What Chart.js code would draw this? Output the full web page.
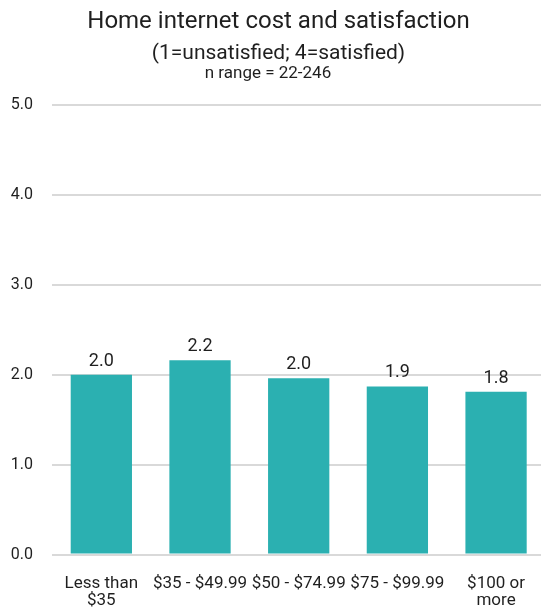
<!DOCTYPE html>
<html>
<head>
<meta charset="utf-8">
<script src="https://cdn.jsdelivr.net/npm/chart.js@4"></script>
<style>
  html, body { margin: 0; padding: 0; background: #ffffff; overflow: hidden; }
  #wrap { width: 546px; height: 609px; }
</style>
</head>
<body>
<div id="wrap"><canvas id="c"></canvas></div>
<script>
// Monthly home internet cost brackets and mean satisfaction (1-4 scale)
const costBrackets = [["Less than", "$35"], "$35 - $49.99", "$50 - $74.99", "$75 - $99.99", ["$100 or", "more"]];
const satisfaction = [2.0, 2.16, 1.96, 1.87, 1.81];
const yTicks = [0, 1, 2, 3, 4, 5];

const TEXT = "#1f1f1f";
const BAR = "#2bb0b1";
const GRID = "#d9d9d9";

// Value labels above each bar, plus the sample-size note under the subtitle
const annotate = {
  id: "annotate",
  afterDatasetsDraw(chart) {
    const ctx = chart.ctx;
    const meta = chart.getDatasetMeta(0);
    ctx.save();
    ctx.fillStyle = TEXT;
    ctx.font = "18px Roboto";
    ctx.textAlign = "center";
    ctx.textBaseline = "alphabetic";
    meta.data.forEach((bar, i) => {
      ctx.fillText(satisfaction[i].toFixed(1), bar.x, bar.y - 9);
    });
    ctx.font = "17px Roboto";
    ctx.fillText("n range = 22-246", 268, chart.chartArea.top - 27);
    ctx.restore();
  }
};

new Chart(document.getElementById("c"), {
  type: "bar",
  data: {
    labels: costBrackets,
    datasets: [{
      data: satisfaction,
      backgroundColor: BAR,
      borderWidth: 0,
      barPercentage: 0.9,
      categoryPercentage: 0.69
    }]
  },
  options: {
    responsive: true,
    maintainAspectRatio: false,
    animation: false,
    layout: { padding: { left: 11, right: 0, top: 0, bottom: 0 } },
    plugins: {
      legend: { display: false },
      tooltip: { enabled: false },
      title: {
        display: true,
        text: "Home internet cost and satisfaction",
        color: TEXT,
        font: { family: "Roboto", size: 24, weight: "normal" },
        padding: { top: 8, bottom: 0 }
      },
      subtitle: {
        display: true,
        text: "(1=unsatisfied; 4=satisfied)",
        color: TEXT,
        font: { family: "Roboto", size: 21, weight: "normal" },
        padding: { top: 4, bottom: 39 }
      }
    },
    scales: {
      x: {
        afterFit(scale) { scale.height = 54.5; },
        grid: { display: false, drawTicks: false },
        border: { display: false },
        ticks: {
          color: TEXT,
          font: { family: "Roboto", size: 17, lineHeight: 1.0 },
          padding: 21,
          maxRotation: 0,
          autoSkip: false
        }
      },
      y: {
        min: 0,
        max: 5,
        afterBuildTicks(scale) {
          scale.ticks = yTicks.map(v => ({ value: v }));
        },
        afterFit(scale) { scale.width = 41; },
        grid: { color: GRID, lineWidth: 2, drawTicks: false },
        border: { display: false },
        ticks: {
          color: TEXT,
          font: { family: "Roboto", size: 16 },
          padding: 19,
          callback: v => Number(v).toFixed(1)
        }
      }
    }
  },
  plugins: [annotate]
});
</script>
</body>
</html>
